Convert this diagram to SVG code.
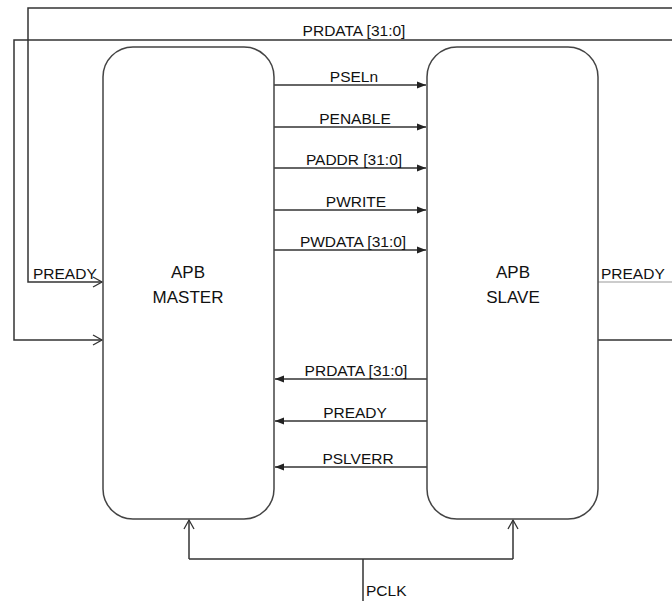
<svg xmlns="http://www.w3.org/2000/svg" width="672" height="601" viewBox="0 0 672 601">
<style>
.box{fill:#fff;stroke:#444;stroke-width:1.5}
.ln{fill:none;stroke:#333;stroke-width:1.5}
.lt{fill:none;stroke:#bbb;stroke-width:1.5}
.t{font-family:"Liberation Sans",Arial,sans-serif;font-size:15.5px;fill:#111}
.c{text-anchor:middle}
.big{font-family:"Liberation Sans",Arial,sans-serif;font-size:17px;fill:#111;text-anchor:middle}
</style>
<defs>
<marker id="fa" markerWidth="10" markerHeight="8" refX="9" refY="4" orient="auto" markerUnits="userSpaceOnUse">
<path d="M0,0.5 L9,4 L0,7.5 Z" fill="#222"/>
</marker>
<marker id="oa" markerWidth="12" markerHeight="12" refX="10" refY="6" orient="auto" markerUnits="userSpaceOnUse">
<path d="M1,1 L10,6 L1,11" fill="none" stroke="#333" stroke-width="1.3"/>
</marker>
</defs>
<g id="connectors">
<path class="ln" d="M672,8 H28 V282 H102" marker-end="url(#oa)"/>
<path class="lt" d="M598,282 H672"/>
<path class="ln" d="M598,340 H672 M672,40 H14 V340 H102" marker-end="url(#oa)"/>
<line class="ln" x1="274" y1="85" x2="426" y2="85" marker-end="url(#fa)"/>
<line class="ln" x1="274" y1="127" x2="426" y2="127" marker-end="url(#fa)"/>
<line class="ln" x1="274" y1="168" x2="426" y2="168" marker-end="url(#fa)"/>
<line class="ln" x1="274" y1="210" x2="426" y2="210" marker-end="url(#fa)"/>
<line class="ln" x1="274" y1="250" x2="426" y2="250" marker-end="url(#fa)"/>
<line class="ln" x1="427" y1="379" x2="275" y2="379" marker-end="url(#fa)"/>
<line class="ln" x1="427" y1="421" x2="275" y2="421" marker-end="url(#fa)"/>
<line class="ln" x1="427" y1="467" x2="275" y2="467" marker-end="url(#fa)"/>
<path class="ln" d="M363,601 V559 M189,559 H513"/>
<path class="ln" d="M189,559 V520" marker-end="url(#oa)"/>
<path class="ln" d="M513,559 V520" marker-end="url(#oa)"/>
</g>
<g id="master">
<rect class="box" x="103" y="47" width="171" height="472" rx="30" ry="30"/>
<text class="big" x="188" y="278">APB</text>
<text class="big" x="188" y="303">MASTER</text>
</g>
<g id="slave">
<rect class="box" x="427" y="47" width="171" height="472" rx="30" ry="30"/>
<text class="big" x="513" y="278">APB</text>
<text class="big" x="513" y="303">SLAVE</text>
</g>
<g id="labels">
<text class="t c" x="354" y="36">PRDATA [31:0]</text>
<text class="t c" x="354" y="82">PSELn</text>
<text class="t c" x="355" y="124">PENABLE</text>
<text class="t c" x="354" y="165">PADDR [31:0]</text>
<text class="t c" x="356" y="207">PWRITE</text>
<text class="t c" x="353" y="247">PWDATA [31:0]</text>
<text class="t c" x="356" y="376">PRDATA [31:0]</text>
<text class="t c" x="355" y="418">PREADY</text>
<text class="t c" x="358" y="464">PSLVERR</text>
<text class="t" x="33" y="279">PREADY</text>
<text class="t" x="601" y="279">PREADY</text>
<text class="t" x="366" y="596">PCLK</text>
</g>
</svg>
